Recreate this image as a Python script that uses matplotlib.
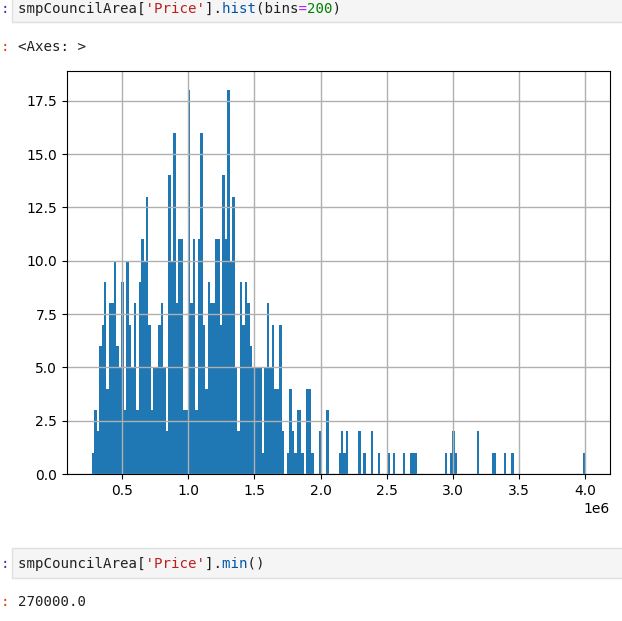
import numpy as np
import matplotlib.pyplot as plt
from matplotlib.patches import Rectangle

# histogram of smpCouncilArea['Price'], 200 bins between min and max
price_min = 270000.0
price_max = 4000000.0
n_bins = 200

# counts of the first 90 bins
counts_head = [1, 3, 2, 6, 7, 9, 4, 8, 8, 10,
               6, 5, 9, 3, 10, 7, 5, 8, 3, 9,
               11, 10, 13, 7, 3, 5, 5, 7, 8, 5,
               2, 14, 10, 16, 8, 11, 11, 3, 3, 18,
               8, 11, 3, 11, 16, 7, 4, 9, 8, 8,
               11, 11, 7, 14, 11, 18, 10, 13, 5, 2,
               9, 7, 9, 8, 6, 5, 5, 5, 5, 1,
               5, 8, 5, 7, 4, 4, 7, 2, 0, 1,
               4, 2, 1, 3, 3, 1, 0, 4, 4, 1]

# sparse tail: bin index -> count
tail_bins = [92, 95, 100, 101, 102, 103, 108, 110, 113, 116, 120, 122, 126,
             129, 130, 131, 143, 145, 146, 147, 156, 162, 163, 167, 170, 199]
tail_counts = [2, 3, 1, 2, 1, 2, 2, 1, 2, 1, 1, 1, 1,
               1, 1, 1, 1, 1, 2, 1, 2, 1, 1, 1, 1, 1]

cell1_code = "smpCouncilArea['Price'].hist(bins=200)"
cell1_out = "<Axes: >"
cell2_code = "smpCouncilArea['Price'].min()"
cell2_out = "270000.0"

counts = np.zeros(n_bins)
counts[:len(counts_head)] = counts_head
counts[tail_bins] = tail_counts
edges = np.linspace(price_min, price_max, n_bins + 1)
centers = (edges[:-1] + edges[1:]) / 2

W, H = 622, 621
fig = plt.figure(figsize=(W / 100, H / 100), dpi=100)
fig.patch.set_facecolor('white')

def fx(px):
    return px / W

def fy(py):
    return 1 - py / H

mono = 'DejaVu Sans Mono'
code_fs = 10.2

def code_line(x, y, code, colors):
    # colors: list of (color, set of char positions); draw each colour
    # as its own string padded with spaces so the mono font keeps alignment
    used = set()
    for col, idx in colors:
        s = ''.join(c if i in idx else ' ' for i, c in enumerate(code))
        fig.text(fx(x), fy(y), s, family=mono, fontsize=code_fs, color=col,
                 va='center', ha='left')
        used |= idx
    s = ''.join(c if i not in used else ' ' for i, c in enumerate(code))
    fig.text(fx(x), fy(y), s, family=mono, fontsize=code_fs, color='#212121',
             va='center', ha='left')

def span(code, sub, start=0):
    i = code.index(sub, start)
    return set(range(i, i + len(sub)))

# input cell boxes
fig.add_artist(Rectangle((fx(12), fy(22)), fx(622) - fx(12) + 0.01, fy(-2) - fy(22),
                         transform=fig.transFigure, facecolor='#f5f5f5',
                         edgecolor='#e0e0e0', linewidth=1))
fig.add_artist(Rectangle((fx(12), fy(578)), fx(622) - fx(12) + 0.01, fy(548) - fy(578),
                         transform=fig.transFigure, facecolor='#f5f5f5',
                         edgecolor='#e0e0e0', linewidth=1))

code_line(18, 9, cell1_code, [
    ('#ba2121', span(cell1_code, "'Price'")),
    ('#0055aa', span(cell1_code, 'hist')),
    ('#aa22ff', span(cell1_code, '=')),
    ('#008000', span(cell1_code, '200')),
])
code_line(18, 564, cell2_code, [
    ('#ba2121', span(cell2_code, "'Price'")),
    ('#0055aa', span(cell2_code, 'min')),
])
fig.text(fx(18), fy(47), cell1_out, family=mono, fontsize=code_fs,
         color='#212121', va='center')
fig.text(fx(18), fy(602), cell2_out, family=mono, fontsize=code_fs,
         color='#212121', va='center')

# prompt colons at the left edge
fig.text(fx(1), fy(9), ':', family=mono, fontsize=code_fs, color='#303f9f', va='center')
fig.text(fx(1), fy(47), ':', family=mono, fontsize=code_fs, color='#d84315', va='center')
fig.text(fx(1), fy(564), ':', family=mono, fontsize=code_fs, color='#303f9f', va='center')
fig.text(fx(1), fy(602), ':', family=mono, fontsize=code_fs, color='#d84315', va='center')

ax = fig.add_axes([fx(67), fy(474), fx(610) - fx(67), fy(71) - fy(474)])
ax.hist(centers, bins=edges, weights=counts, color='#1f77b4')
# pandas draws the grid over the bars (default axisbelow='line')
ax.grid(True, color='#b0b0b0', linewidth=1.0)
ax.tick_params(labelsize=10)

fig.savefig('out.png', dpi=100)
